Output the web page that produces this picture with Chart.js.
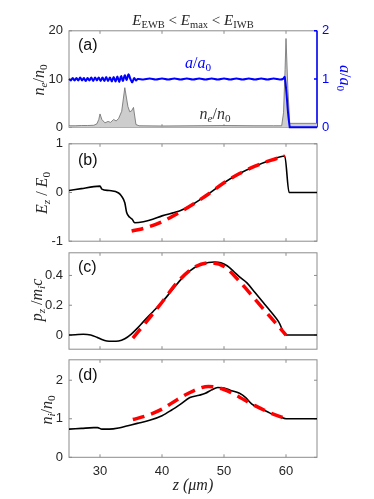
<!DOCTYPE html>
<html><head><meta charset="utf-8">
<script src="https://cdn.jsdelivr.net/npm/chart.js@4/dist/chart.umd.min.js"></script>
<style>
html,body{margin:0;padding:0;background:#fff;}
#wrap{position:relative;width:374px;height:499px;overflow:hidden;background:#fff;}
canvas{position:absolute;left:0;}
.lbl{position:absolute;white-space:nowrap;font-family:'Liberation Serif',serif;font-style:italic;color:#262626;line-height:1;transform:translate(-50%,-50%);}
.rot{transform:translate(-50%,-50%) rotate(-90deg);}
.rotcw{transform:translate(-50%,-50%) rotate(90deg);}
.lbl sub{font-size:70%;vertical-align:baseline;position:relative;top:0.3em;}
.up{font-style:normal;}
.letter{position:absolute;font-family:'Liberation Sans',Arial,sans-serif;font-size:16px;color:#111;line-height:1;transform:translate(0,-50%);}
</style>
</head><body>
<div id="wrap">
  <div class="lbl" style="left:193px;top:20px;font-size:15px;"><i>E</i><sub class="up">EWB</sub> <span class="up">&lt;</span> <i>E</i><sub class="up">max</sub> <span class="up">&lt;</span> <i>E</i><sub class="up">IWB</sub></div>
  <div class="lbl rot" style="left:39px;top:80px;font-size:16px;"><i>n<sub>e</sub></i><span class="up">/</span><i>n</i><sub class="up">0</sub></div>
  <div class="lbl rotcw" style="left:345px;top:78px;font-size:16px;color:#0000ff;"><i>a</i><span class="up">/</span><i>a</i><sub class="up">0</sub></div>
  <div class="lbl rot" style="left:42px;top:193px;font-size:16px;"><i>E<sub>z</sub></i> <span class="up">/</span> <i>E</i><sub class="up">0</sub></div>
  <div class="lbl rot" style="left:37px;top:300px;font-size:16px;"><i>p<sub>z</sub></i> <span class="up">/</span><i>m<sub>i</sub>c</i></div>
  <div class="lbl rot" style="left:47px;top:410px;font-size:16px;"><i>n<sub>i</sub></i><span class="up">/</span><i>n</i><sub class="up">0</sub></div>
  <div class="lbl" style="left:198px;top:63px;font-size:16px;color:#0000ff;"><i>a</i><span class="up">/</span><i>a</i><sub class="up">0</sub></div>
  <div class="lbl" style="left:215px;top:114px;font-size:16px;color:#333;"><i>n<sub>e</sub></i><span class="up">/</span><i>n</i><sub class="up">0</sub></div>
  <div class="letter" style="left:78px;top:45px;">(a)</div>
  <div class="letter" style="left:78px;top:160px;">(b)</div>
  <div class="letter" style="left:78px;top:267px;">(c)</div>
  <div class="letter" style="left:78px;top:375px;">(d)</div>
</div>
<script>
// ===== DATA =====
const xTicks = [30, 40, 50, 60];
const xTickLabels = ['30', '40', '50', '60'];

// (a) electron density n_e/n_0 (left axis)
const zNe = [25,26,27,28,29,29.5,29.8,30.0,30.3,30.8,31.3,31.7,32.2,32.6,33.0,33.5,34.0,34.5,34.8,35.1,35.4,35.8,36.3,40,45,50,55,58,59.3,59.6,59.85,60.0,60.3,60.6,65];
const neVals = [0.3,0.3,0.35,0.35,0.4,0.7,1.6,2.75,1.6,0.9,1.2,1.0,1.6,1.3,1.8,3.3,8.2,4.3,3.2,3.4,4.1,0.55,0.3,0.25,0.3,0.35,0.3,0.3,0.3,3,12,18.4,8,0.8,0.8];
// (a) laser amplitude a/a_0 (right axis)
const zA = [25,25.3,25.6,25.9,26.2,26.5,26.8,27.1,27.4,27.7,28,28.3,28.6,28.9,29.2,29.5,29.8,30.1,30.4,30.7,31,31.3,31.6,31.9,32.2,32.5,32.8,33.1,33.4,33.7,34,34.3,34.6,34.9,35.2,35.5,35.8,36.1,37,38,39,40,41,42,43,44,45,46,47,48,49,50,51,52,53,54,55,56,57,58,59,59.5,59.8,60.6,61,65];
const aVals = [1.0,0.97,1.02,0.97,1.02,0.97,1.03,0.97,1.02,0.96,1.02,0.97,1.03,0.96,1.03,0.97,1.03,0.96,1.03,0.96,1.04,0.96,1.03,0.95,1.04,0.95,1.05,0.94,1.06,0.96,1.08,0.98,1.1,1.0,0.93,1.02,0.97,1.0,0.99,1.01,0.99,1.01,0.99,1.01,0.99,1.01,0.99,1.01,0.99,1.01,0.99,1.01,0.99,1.01,0.99,1.01,0.99,1.01,0.99,1.01,0.99,1.0,1.04,0,0,0];
const yTicksA = [0, 10, 20];
const y2TicksA = [0, 1, 2];

// (b) E_z/E_0
const zEb = [25,27,29,30,30.3,31.5,33,33.5,34,34.3,34.8,35.2,35.6,37,38.5,40,42,43,45,47.5,50,52.5,55,57.5,59.8,60.5,65];
const EzSim = [0.04,0.08,0.12,0.13,0.07,0.04,-0.01,-0.08,-0.21,-0.41,-0.51,-0.55,-0.62,-0.6,-0.55,-0.48,-0.41,-0.37,-0.24,-0.03,0.2,0.39,0.54,0.66,0.75,0,0];
const zRb = [35.1,37.5,40,42.5,45,47.5,50,52.5,55,57.5,59.8];
const EzModel = [-0.79,-0.72,-0.6,-0.43,-0.24,-0.03,0.2,0.39,0.54,0.66,0.75];
const yTicksB = [-1, 0, 1];

// (c) p_z / m_i c
const zPc = [25,26,27.3,28.5,29.5,30.3,31.1,32,33,34,35,36,37,38.5,40,41.5,43,44.5,46,47.5,48.5,49.5,50.5,51.5,52.5,53.7,55,56.4,57.5,58.8,60,65];
const pzSim = [0,0.002,0.005,0,-0.015,-0.03,-0.04,-0.042,-0.04,-0.025,0.005,0.045,0.09,0.155,0.22,0.295,0.37,0.43,0.47,0.487,0.49,0.485,0.465,0.43,0.39,0.35,0.285,0.215,0.16,0.09,0,0];
const zRc = [35.3,37.5,40,42.5,45,47.5,50,52.5,55,57.5,60];
const pzModel = [-0.02,0.09,0.22,0.355,0.45,0.485,0.46,0.36,0.24,0.12,0];
const yTicksC = [0, 0.2, 0.4];
const yTickLabelsC = ['0', '0.2', '0.4'];

// (d) n_i/n_0
const zNd = [25,27,29,29.6,30.3,31.5,33,34.5,36,38,40,41.5,43,44.5,46,47,48,49,50,51,52.5,53.5,54.5,56,57.5,59,60,65];
const niSim = [0.73,0.75,0.77,0.77,0.73,0.73,0.76,0.82,0.88,0.96,1.08,1.22,1.38,1.55,1.61,1.66,1.75,1.81,1.8,1.74,1.66,1.55,1.38,1.26,1.14,1.05,1.0,1.0];
const zRd = [35.3,37.5,40,42.5,45,47.5,50,52.5,55,57.5,60];
const niModel = [0.98,1.08,1.25,1.5,1.72,1.84,1.76,1.56,1.34,1.15,1.0];
const yTicksD = [0, 1, 2];

// ===== RENDERING =====
Chart.defaults.font.family = "'Liberation Sans', Arial, sans-serif";
Chart.defaults.font.size = 13;
Chart.defaults.color = '#262626';

const W = 374;
const pts = (xs, ys) => xs.map((x, i) => ({x: x, y: ys[i]}));

function addCanvas(top, height) {
  const c = document.createElement('canvas');
  c.width = W; c.height = height;
  c.style.top = top + 'px'; c.style.width = W + 'px'; c.style.height = height + 'px';
  document.getElementById('wrap').insertBefore(c, document.getElementById('wrap').firstChild);
  return c;
}

const frame = {
  id: 'frame',
  beforeDatasetsDraw(chart, args, o) {
    const {ctx, chartArea: a} = chart;
    const xs = chart.scales.x, ys = chart.scales.y;
    ctx.save();
    ctx.strokeStyle = '#8c8c8c'; ctx.lineWidth = 1;
    ctx.strokeRect(a.left, a.top, a.right - a.left, a.bottom - a.top);
    ctx.beginPath();
    xTicks.forEach(v => { const p = xs.getPixelForValue(v); ctx.moveTo(p, a.top); ctx.lineTo(p, a.top + 3); ctx.moveTo(p, a.bottom); ctx.lineTo(p, a.bottom - 3); });
    o.yTicks.forEach(v => { const p = ys.getPixelForValue(v); ctx.moveTo(a.left, p); ctx.lineTo(a.left + 3, p); if (!o.dual) { ctx.moveTo(a.right, p); ctx.lineTo(a.right - 3, p); } });
    ctx.stroke();
    if (o.dual) {
      const y2 = chart.scales.y2;
      ctx.strokeStyle = '#0000ff'; ctx.lineWidth = 1.5;
      ctx.beginPath(); ctx.moveTo(a.right, a.top); ctx.lineTo(a.right, a.bottom);
      o.y2Ticks.forEach(v => { const p = y2.getPixelForValue(v); ctx.moveTo(a.right, p); ctx.lineTo(a.right - 3, p); });
      ctx.stroke();
    }
    ctx.restore();
  }
};

function xScale(show) {
  return {
    type: 'linear', min: 25, max: 65, display: show,
    afterBuildTicks: s => { s.ticks = xTicks.map(v => ({value: v})); },
    grid: {display: false, drawTicks: false}, border: {display: false},
    ticks: {display: show, padding: 6, maxRotation: 0, autoSkip: false, font: {size: 13},
            callback: (v, i) => xTickLabels[i]},
    title: {display: show, text: 'z (μm)', color: '#262626', padding: {top: 0, bottom: 4},
            font: {family: "'Liberation Serif', serif", style: 'italic', size: 16}},
    afterFit: s => { if (show) s.height = 41.7; }
  };
}

function yScale(min, max, ticks, labels, opts) {
  return Object.assign({
    type: 'linear', min: min, max: max, position: 'left',
    afterBuildTicks: s => { s.ticks = ticks.map(v => ({value: v})); },
    grid: {display: false, drawTicks: false}, border: {display: false},
    ticks: {padding: 6, font: {size: 13}, callback: (v, i) => labels ? labels[i] : String(v)},
    afterFit: s => { s.width = 69; }
  }, opts || {});
}

function panel(canvasTop, canvasH, plotTop, plotBottom, datasets, scales, frameOpts, showX) {
  const c = addCanvas(canvasTop, canvasH);
  const padTop = plotTop - canvasTop;
  const padBottom = showX ? 0 : canvasH - (plotBottom - canvasTop);
  return new Chart(c, {
    type: 'line',
    data: {datasets: datasets},
    options: {
      responsive: false, animation: false, devicePixelRatio: 1,
      layout: {padding: {top: padTop, bottom: padBottom, left: 0, right: scales.y2 ? 0 : 57}},
      plugins: {legend: {display: false}, tooltip: {enabled: false}, frame: frameOpts},
      elements: {point: {radius: 0}},
      scales: scales
    },
    plugins: [frame]
  });
}

const redStyle = {borderColor: '#ff0000', borderWidth: 3.5, borderDash: [12, 7], fill: false, pointRadius: 0, cubicInterpolationMode: 'monotone'};
const blackStyle = {borderColor: '#000000', borderWidth: 1.6, fill: false, pointRadius: 0, cubicInterpolationMode: 'monotone'};

// Panel (a)
panel(17, 124, 29, 128.3, [
  {data: pts(zA, aVals), yAxisID: 'y2', borderColor: '#0000ff', borderWidth: 2, tension: 0.4, pointRadius: 0, fill: false, clip: 6},
  {data: pts(zNe, neVals), yAxisID: 'y', borderColor: '#6b6b6b', borderWidth: 0.8, backgroundColor: '#cdcdcd', fill: 'origin', tension: 0, pointRadius: 0}
], {
  x: xScale(false),
  y: yScale(0, 20, yTicksA, null),
  y2: yScale(0, 2, y2TicksA, null, {position: 'right',
        ticks: {padding: 5, color: '#0000ff', font: {size: 13}, callback: (v) => String(v)},
        afterFit: s => { s.width = 57; }})
}, {yTicks: yTicksA, dual: true, y2Ticks: y2TicksA}, false);

// Panel (b)
panel(130, 125, 142.7, 242.3, [
  Object.assign({data: pts(zRb, EzModel)}, redStyle),
  Object.assign({data: pts(zEb, EzSim)}, blackStyle)
], {
  x: xScale(false),
  y: yScale(-1, 1, yTicksB, null)
}, {yTicks: yTicksB}, false);

// Panel (c)
panel(239, 124, 251, 350.7, [
  Object.assign({data: pts(zRc, pzModel)}, redStyle),
  Object.assign({data: pts(zPc, pzSim)}, blackStyle)
], {
  x: xScale(false),
  y: yScale(-0.095, 0.552, yTicksC, yTickLabelsC)
}, {yTicks: yTicksC}, false);

// Panel (d)
panel(346, 153, 358, 457.3, [
  Object.assign({data: pts(zRd, niModel)}, redStyle),
  Object.assign({data: pts(zNd, niSim)}, blackStyle)
], {
  x: xScale(true),
  y: yScale(0, 2.53, yTicksD, null)
}, {yTicks: yTicksD}, true);
</script>
</body></html>
